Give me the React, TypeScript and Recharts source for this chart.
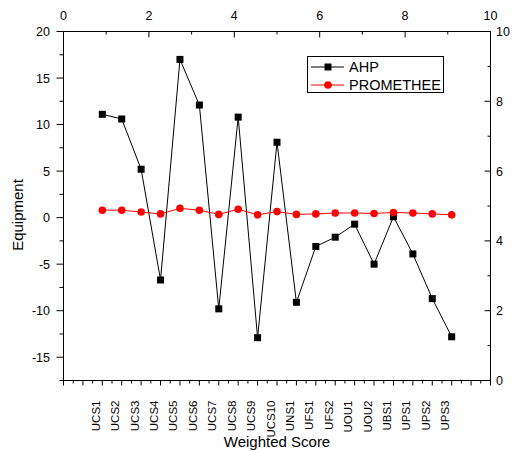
import { LineChart, Line, XAxis, YAxis, Legend, Label } from "recharts";

const categories = [
  "UCS1", "UCS2", "UCS3", "UCS4", "UCS5", "UCS6", "UCS7", "UCS8", "UCS9", "UCS10",
  "UNS1", "UFS1", "UFS2", "UOU1", "UOU2", "UBS1", "UPS1", "UPS2", "UPS3",
];
const ahp = [11.1, 10.6, 5.2, -6.7, 17.0, 12.1, -9.8, 10.8, -12.9, 8.1, -9.1, -3.1, -2.1, -0.7, -5.0, 0.1, -3.9, -8.7, -12.8];
const promethee = [0.8, 0.8, 0.6, 0.4, 1.0, 0.8, 0.35, 0.9, 0.3, 0.65, 0.35, 0.4, 0.5, 0.5, 0.45, 0.55, 0.5, 0.4, 0.3];

// bottom axis runs 0..22, categories sit on 2..20
const firstPos = 2;
const bottomTicks = [
  0, 0.5, 1, 1.5, 2, 2.5, 3, 3.5, 4, 4.5, 5, 5.5, 6, 6.5, 7, 7.5, 8, 8.5, 9, 9.5, 10, 10.5,
  11, 11.5, 12, 12.5, 13, 13.5, 14, 14.5, 15, 15.5, 16, 16.5, 17, 17.5, 18, 18.5, 19, 19.5,
  20, 20.5, 21, 21.5, 22,
];
const leftTicks = [-17.5, -15, -12.5, -10, -7.5, -5, -2.5, 0, 2.5, 5, 7.5, 10, 12.5, 15, 17.5, 20];
const topTicks = [0, 1, 2, 3, 4, 5, 6, 7, 8, 9, 10];
const rightTicks = [0, 1, 2, 3, 4, 5, 6, 7, 8, 9, 10];

const data = categories.map((name, i) => ({
  pos: firstPos + i,
  name,
  ahp: ahp[i],
  promethee: promethee[i],
}));

const FONT = "'Liberation Sans', Arial, sans-serif";
const TICK_FONT = 12.5;

const LeftTick = (props: any) => {
  const { x, y, payload } = props;
  const v = payload.value;
  const major = v % 5 === 0;
  return (
    <g>
      <line x1={x} x2={x - (major ? 7 : 4)} y1={y} y2={y} stroke="#000" />
      {major && (
        <text x={x - 13.5} y={y} dy="0.36em" textAnchor="end" fontSize={TICK_FONT} fontFamily={FONT} fill="#000">
          {v}
        </text>
      )}
    </g>
  );
};

const RightTick = (props: any) => {
  const { x, y, payload } = props;
  const v = payload.value;
  const major = v % 2 === 0;
  return (
    <g>
      <line x1={x} x2={x - (major ? 6 : 3)} y1={y} y2={y} stroke="#000" />
      {major && (
        <text x={x + 5.5} y={y} dy="0.36em" textAnchor="start" fontSize={TICK_FONT} fontFamily={FONT} fill="#000">
          {v}
        </text>
      )}
    </g>
  );
};

const TopTick = (props: any) => {
  const { x, y, payload } = props;
  const v = payload.value;
  const major = v % 2 === 0;
  return (
    <g>
      <line x1={x} x2={x} y1={y} y2={y + (major ? 6 : 3)} stroke="#000" />
      {major && (
        <text x={x} y={y - 16} dy="0.36em" textAnchor="middle" fontSize={TICK_FONT} fontFamily={FONT} fill="#000">
          {v}
        </text>
      )}
    </g>
  );
};

const BottomTick = (props: any) => {
  const { x, y, payload } = props;
  const v = payload.value;
  const major = Number.isInteger(v);
  const idx = v - firstPos;
  const label = major && idx >= 0 && idx < categories.length ? categories[idx] : null;
  return (
    <g>
      <line x1={x} x2={x} y1={y} y2={y + (major ? 5 : 3)} stroke="#000" />
      {label && (
        <text
          x={x - 2.5}
          y={y + 20}
          textAnchor="end"
          transform={`rotate(-90, ${x - 2.5}, ${y + 20})`}
          fontSize={11.5}
          fontFamily={FONT}
          fill="#000"
        >
          {label}
        </text>
      )}
    </g>
  );
};

const SquareDot = (props: any) => {
  const { cx, cy, index } = props;
  return <rect key={index} x={cx - 3.5} y={cy - 3.5} width={7} height={7} fill="#000" />;
};

const LegendBox = (props: any) => {
  const { payload } = props;
  return (
    <div
      style={{
        border: "1px solid #000",
        background: "#fff",
        width: 137,
        height: 37,
        boxSizing: "border-box",
        paddingTop: 0.5,
        fontFamily: FONT,
        fontSize: 14.5,
        color: "#000",
      }}
    >
      {(payload || []).map((entry: any) => (
        <div key={entry.value} style={{ display: "flex", alignItems: "center", height: 18 }}>
          <svg width={41} height={18} style={{ display: "block" }}>
            <line x1={3} x2={36} y1={9} y2={9} stroke={entry.color} />
            {entry.dataKey === "ahp" ? (
              <rect x={16.5} y={5.5} width={7} height={7} fill={entry.color} />
            ) : (
              <circle cx={20} cy={9} r={3.8} fill={entry.color} />
            )}
          </svg>
          <span style={{ lineHeight: "18px" }}>{entry.value}</span>
        </div>
      ))}
    </div>
  );
};

export default function App() {
  return (
    <div style={{ position: "absolute", left: 0, top: 0, background: "#fff" }}>
      <LineChart width={512} height={452} data={data} margin={{ top: 6.5, right: 0, bottom: 11.5, left: 0 }}>
        <XAxis
          dataKey="pos"
          type="number"
          domain={[0, 22]}
          allowDataOverflow
          ticks={bottomTicks}
          interval={0}
          tickSize={0}
          tickMargin={0}
          tickLine={false}
          tick={<BottomTick />}
          height={60}
          axisLine={{ stroke: "#000" }}
        >
          <Label
            content={(p: any) => (
              <text
                x={p.viewBox.x + p.viewBox.width / 2}
                y={447}
                textAnchor="middle"
                fontSize={15}
                fontFamily={FONT}
                fill="#000"
              >
                Weighted Score
              </text>
            )}
          />
        </XAxis>
        <XAxis
          xAxisId="top"
          orientation="top"
          type="number"
          dataKey={() => 0}
          domain={[0, 10]}
          allowDataOverflow
          ticks={topTicks}
          interval={0}
          tickSize={0}
          tickMargin={0}
          tickLine={false}
          tick={<TopTick />}
          height={25}
          axisLine={{ stroke: "#000" }}
        />
        <YAxis
          type="number"
          domain={[-17.5, 20]}
          allowDataOverflow
          ticks={leftTicks}
          interval={0}
          tickSize={0}
          tickMargin={0}
          tickLine={false}
          tick={<LeftTick />}
          width={63.5}
          axisLine={{ stroke: "#000" }}
        >
          <Label
            content={() => (
              <text
                x={18}
                y={215}
                dy="0.35em"
                textAnchor="middle"
                transform="rotate(-90, 18, 215)"
                fontSize={15}
                fontFamily={FONT}
                fill="#000"
              >
                Equipment
              </text>
            )}
          />
        </YAxis>
        <YAxis
          yAxisId="right"
          orientation="right"
          type="number"
          domain={[0, 10]}
          allowDataOverflow
          ticks={rightTicks}
          interval={0}
          tickSize={0}
          tickMargin={0}
          tickLine={false}
          tick={<RightTick />}
          width={21.5}
          axisLine={{ stroke: "#000" }}
        />
        <Legend
          layout="vertical"
          align="center"
          verticalAlign="middle"
          content={<LegendBox />}
          wrapperStyle={{ left: 307, top: 56, width: 137, height: 37 }}
        />
        <Line
          dataKey="ahp"
          name="AHP"
          stroke="#000"
          strokeWidth={1}
          dot={<SquareDot />}
          activeDot={false}
          isAnimationActive={false}
        />
        <Line
          dataKey="promethee"
          name="PROMETHEE"
          stroke="#ff0000"
          strokeWidth={1}
          dot={{ r: 3.8, fill: "#ff0000", stroke: "none" }}
          activeDot={false}
          isAnimationActive={false}
        />
      </LineChart>
    </div>
  );
}
